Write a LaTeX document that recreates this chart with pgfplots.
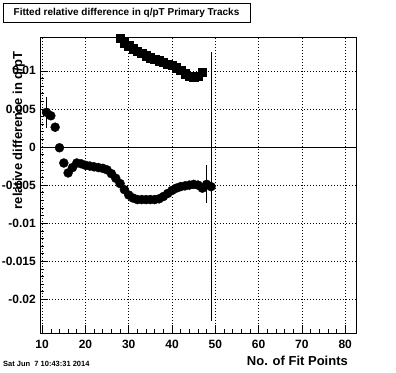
\documentclass[border=0pt]{standalone}
\usepackage{fontspec}
\setmainfont{Liberation Sans}
\usepackage{pgfplots}
\usepackage{pgfplotstable}
\pgfplotsset{compat=1.18}
\pgfplotstableread{
x y e
11 0.00455 0.00205
12 0.0041 0.0003
13 0.0026 0.0006
14 -0.0001 0.0004
15 -0.0021 0.0002
16 -0.0034 0.0002
17 -0.0027 0.0001
18 -0.0021 0.0001
19 -0.0022 0.0001
20 -0.0024 0.0001
21 -0.0025 0.0001
22 -0.0026 0.0001
23 -0.0027 0.0001
24 -0.0028 0.0001
25 -0.0030 0.0001
26 -0.0035 0.0001
27 -0.0041 0.0001
28 -0.0048 0.0001
29 -0.0056 0.0001
30 -0.0063 0.0001
31 -0.0067 0.0001
32 -0.0069 0.0001
33 -0.0069 0.0001
34 -0.0069 0.0001
35 -0.0069 0.0001
36 -0.0069 0.0001
37 -0.0068 0.0001
38 -0.0065 0.0001
39 -0.0061 0.0001
40 -0.0057 0.0001
41 -0.0054 0.0001
42 -0.0052 0.0001
43 -0.0051 0.0001
44 -0.0050 0.0001
45 -0.0049 0.0001
46 -0.0050 0.0001
47 -0.0054 0.0001
48 -0.0049 0.0025
49 -0.0052 0.0177
}\lowerdata
\pgfplotstableread{
x y
28 0.0143
29 0.0137
30 0.0133
31 0.0129
32 0.0126
33 0.0123
34 0.0120
35 0.0117
36 0.0115
37 0.0113
38 0.0111
39 0.0109
40 0.0107
41 0.0104
42 0.0101
43 0.0096
44 0.0093
45 0.0092
46 0.0093
47 0.0098
}\upperdata
\begin{document}
\begin{tikzpicture}
\useasboundingbox (0,0) rectangle (396pt,-372pt);
\begin{axis}[
  at={(40pt,-333pt)}, anchor=south west,
  scale only axis, width=316pt, height=296pt,
  xmin=9.5, xmax=82.5, ymin=-0.02441, ymax=0.014436,
  axis line style={black, line width=0.8pt},
  tick align=inside, tick pos=left,
  xtick={10,20,30,40,50,60,70,80},
  xticklabels={10,20,30,40,50,60,70,80},
  ytick={-0.02,-0.015,-0.01,-0.005,0,0.005,0.01},
  yticklabels={-0.02,-0.015,-0.01,-0.005,0,0.005,0.01},
  scaled y ticks=false, scaled x ticks=false,
  minor x tick num=4, minor y tick num=4,
  major tick length=8pt, minor tick length=4pt,
  tick style={black, line width=0.6pt},
  grid=major,
  major grid style={black, line width=0.6pt, dash pattern=on 1pt off 2pt},
  ticklabel style={font=\bfseries\fontsize{12}{12}\selectfont, inner sep=0pt},
  yticklabel style={xshift=-4pt},
  xticklabel style={yshift=-7pt},
  clip=false,
]
\addplot[black, line width=0.8pt, forget plot] coordinates {(9.5,0) (82.5,0)};
\addplot[only marks, mark=*, mark size=4.5pt, black,
  error bars/.cd, y dir=both, y explicit, error mark=none,
  error bar style={line width=0.8pt}]
  table[x=x, y=y, y error=e] {\lowerdata};
\addplot[only marks, mark=square*, mark size=4.2pt, black] table[x=x, y=y] {\upperdata};
\end{axis}
\draw[line width=0.8pt] (3pt,-3pt) rectangle (250pt,-22pt);
\node[font=\bfseries\fontsize{10}{10}\selectfont] at (126.5pt,-12.5pt) {Fitted relative difference in q/pT Primary Tracks};
\node[rotate=90, anchor=base, inner sep=0pt, font=\bfseries\fontsize{13}{13}\selectfont] at (22pt,-130.5pt) {relative difference in q/pT};
\node[anchor=base east, inner sep=0pt, font=\bfseries\fontsize{13}{13}\selectfont] at (348pt,-365pt) {No. of Fit Points};
\node[anchor=base west, inner sep=0pt, font=\bfseries\fontsize{7.5}{7.5}\selectfont] at (3pt,-366pt) {Sat Jun\ \ 7 10:43:31 2014};
\end{tikzpicture}
\end{document}
